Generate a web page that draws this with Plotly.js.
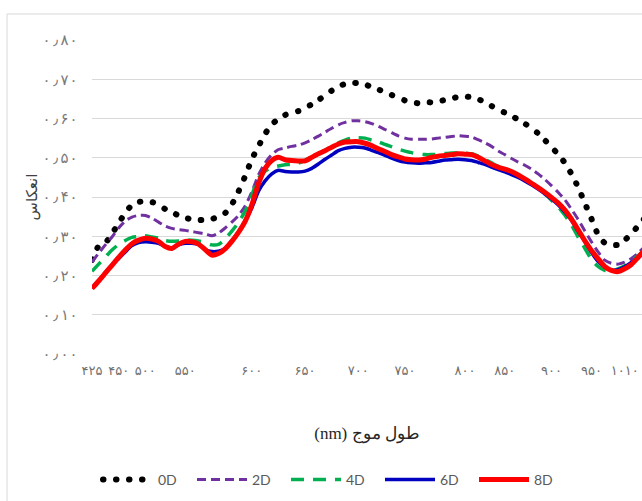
<!DOCTYPE html>
<html>
<head>
<meta charset="utf-8">
<script src="https://cdn.plot.ly/plotly-3.0.1.min.js"></script>
<style>
  html, body { margin: 0; padding: 0; background: #ffffff; }
  #chart { width: 642px; height: 501px; }
</style>
</head>
<body>
<div id="chart"></div>
<script>
// Wavelength categories (nm), in the order of the source table
var wavelengths = [
  425, 431, 438, 444, 450, 463, 475, 488, 500,
  508, 517, 525, 533, 542, 550,
  555, 560, 565, 570, 575, 580, 585, 590, 595, 600,
  606, 613, 619, 625, 631, 638, 644, 650,
  656, 663, 669, 675, 681, 688, 694, 700,
  707, 714, 721, 729, 736, 743, 750,
  756, 761, 767, 772, 778, 783, 789, 794, 800,
  808, 817, 825, 833, 842, 850,
  857, 864, 871, 879, 886, 893, 900,
  908, 917, 925, 933, 942, 950,
  962, 974, 986, 998, 1010,
  1022, 1034, 1046
];

var series0D = [
  0.240, 0.275, 0.283, 0.306, 0.334, 0.359, 0.380, 0.387, 0.390,
  0.387, 0.382, 0.369, 0.361, 0.353, 0.347,
  0.343, 0.341, 0.342, 0.344, 0.350, 0.359, 0.381, 0.414, 0.453, 0.496,
  0.529, 0.561, 0.585, 0.599, 0.609, 0.615, 0.619, 0.627,
  0.636, 0.647, 0.659, 0.671, 0.682, 0.688, 0.691, 0.690,
  0.687, 0.680, 0.674, 0.667, 0.660, 0.652, 0.646,
  0.641, 0.639, 0.642, 0.641, 0.644, 0.647, 0.651, 0.655, 0.656,
  0.654, 0.649, 0.642, 0.632, 0.622, 0.615,
  0.607, 0.597, 0.587, 0.575, 0.562, 0.545, 0.527,
  0.509, 0.487, 0.459, 0.425, 0.385, 0.345,
  0.304, 0.283, 0.278, 0.278, 0.290,
  0.306, 0.326, 0.346
];

var series2D = [
  0.234, 0.257, 0.278, 0.298, 0.321, 0.339, 0.349, 0.353, 0.353,
  0.346, 0.336, 0.326, 0.320, 0.317, 0.315,
  0.312, 0.309, 0.306, 0.301, 0.308, 0.321, 0.336, 0.353, 0.377, 0.413,
  0.456, 0.487, 0.508, 0.521, 0.525, 0.529, 0.532, 0.538,
  0.546, 0.555, 0.565, 0.575, 0.584, 0.590, 0.594, 0.594,
  0.592, 0.587, 0.580, 0.572, 0.564, 0.556, 0.550,
  0.547, 0.547, 0.547, 0.548, 0.550, 0.552, 0.554, 0.556, 0.555,
  0.553, 0.546, 0.538, 0.529, 0.517, 0.508,
  0.498, 0.489, 0.481, 0.471, 0.459, 0.445, 0.429,
  0.412, 0.393, 0.369, 0.343, 0.314, 0.286,
  0.260, 0.239, 0.231, 0.229, 0.234,
  0.243, 0.257, 0.273
];

var series4D = [
  0.211, 0.229, 0.247, 0.265, 0.279, 0.289, 0.297, 0.299, 0.301,
  0.298, 0.295, 0.289, 0.287, 0.288, 0.290,
  0.290, 0.288, 0.284, 0.278, 0.279, 0.293, 0.313, 0.335, 0.364, 0.405,
  0.448, 0.466, 0.475, 0.479, 0.482, 0.483, 0.486, 0.494,
  0.502, 0.510, 0.519, 0.529, 0.538, 0.545, 0.550, 0.551,
  0.550, 0.545, 0.541, 0.534, 0.528, 0.522, 0.517,
  0.513, 0.510, 0.508, 0.508, 0.509, 0.511, 0.512, 0.513, 0.512,
  0.510, 0.504, 0.496, 0.487, 0.478, 0.472,
  0.465, 0.456, 0.446, 0.434, 0.421, 0.408, 0.392,
  0.375, 0.354, 0.329, 0.298, 0.270, 0.241,
  0.223, 0.213, 0.211, 0.217, 0.225,
  0.237, 0.250, 0.265
];

var series6D = [
  0.168, 0.187, 0.208, 0.227, 0.243, 0.260, 0.276, 0.284, 0.286,
  0.285, 0.282, 0.274, 0.270, 0.278, 0.282,
  0.282, 0.279, 0.266, 0.261, 0.262, 0.269, 0.289, 0.311, 0.339, 0.372,
  0.415, 0.441, 0.459, 0.468, 0.465, 0.464, 0.464, 0.466,
  0.473, 0.484, 0.496, 0.507, 0.518, 0.524, 0.527, 0.527,
  0.525, 0.519, 0.513, 0.506, 0.499, 0.493, 0.489,
  0.487, 0.486, 0.487, 0.488, 0.491, 0.494, 0.495, 0.496, 0.495,
  0.493, 0.488, 0.483, 0.476, 0.470, 0.464,
  0.457, 0.450, 0.441, 0.431, 0.420, 0.408, 0.395,
  0.380, 0.362, 0.341, 0.313, 0.287, 0.259,
  0.236, 0.222, 0.214, 0.215, 0.222,
  0.233, 0.246, 0.260
];

var series8D = [
  0.167, 0.186, 0.206, 0.226, 0.246, 0.265, 0.281, 0.290, 0.295,
  0.293, 0.287, 0.274, 0.269, 0.280, 0.287,
  0.286, 0.280, 0.266, 0.252, 0.256, 0.268, 0.287, 0.310, 0.338, 0.380,
  0.434, 0.473, 0.493, 0.501, 0.495, 0.493, 0.492, 0.492,
  0.501, 0.510, 0.518, 0.527, 0.535, 0.540, 0.541, 0.541,
  0.537, 0.531, 0.523, 0.516, 0.508, 0.502, 0.497,
  0.495, 0.494, 0.496, 0.501, 0.504, 0.506, 0.508, 0.510, 0.509,
  0.508, 0.501, 0.492, 0.483, 0.476, 0.471,
  0.465, 0.456, 0.446, 0.435, 0.424, 0.412, 0.399,
  0.385, 0.367, 0.344, 0.317, 0.289, 0.264,
  0.243, 0.223, 0.213, 0.210, 0.217,
  0.228, 0.246, 0.265
];

var seriesNames = ['0D', '2D', '4D', '6D', '8D'];

var xTickWavelengths = [425, 450, 500, 550, 600, 650, 700, 750, 800, 850, 900, 950, 1010];
var xTickLabels = ['۴۲۵', '۴۵۰', '۵۰۰', '۵۵۰', '۶۰۰', '۶۵۰', '۷۰۰', '۷۵۰', '۸۰۰', '۸۵۰', '۹۰۰', '۹۵۰', '۱۰۱۰'];

var yTickValues = [0, 0.1, 0.2, 0.3, 0.4, 0.5, 0.6, 0.7, 0.8];
var yTickLabels = ['۰٫۰۰', '۰٫۱۰', '۰٫۲۰', '۰٫۳۰', '۰٫۴۰', '۰٫۵۰', '۰٫۶۰', '۰٫۷۰', '۰٫۸۰'];

var xTitle = '(nm) طول موج';
var yTitle = 'انعکاس';

// ---- styling ----
var seriesData = [series0D, series2D, series4D, series6D, series8D];
var styles = [
  { color: '#000000', width: 6,   dash: '0.5px,12.5px' },
  { color: '#7030A0', width: 3,   dash: '9px,5px' },
  { color: '#00B050', width: 3.5, dash: '13px,9px' },
  { color: '#0000C0', width: 3.5, dash: 'solid' },
  { color: '#FF0000', width: 5,   dash: 'solid' }
];

var xCats = wavelengths.map(String);
var traces = seriesData.map(function (vals, i) {
  return {
    type: 'scatter',
    mode: 'lines',
    name: seriesNames[i],
    x: xCats,
    y: vals,
    line: { color: styles[i].color, width: styles[i].width, dash: styles[i].dash, shape: 'spline', smoothing: 0.6 },
    hoverinfo: 'x+y+name'
  };
});

var plotLeft = 92, plotRight = 642, plotTop = 40, plotBottom = 354;
var plotH = plotBottom - plotTop, plotW = plotRight - plotLeft;
function px2paperX(px) { return (px - plotLeft) / plotW; }
function px2paperY(py) { return (plotBottom - py) / plotH; }

var layout = {
  width: 642,
  height: 501,
  margin: { l: plotLeft, r: 642 - plotRight, t: plotTop, b: 501 - plotBottom, pad: 0, autoexpand: false },
  paper_bgcolor: '#ffffff',
  plot_bgcolor: '#ffffff',
  font: { family: 'DejaVu Sans, sans-serif', color: '#595959' },
  showlegend: true,
  xaxis: {
    type: 'category',
    range: [0, 82.6],
    tickmode: 'array',
    tickvals: xTickWavelengths.map(String),
    ticktext: xTickLabels,
    showgrid: false,
    zeroline: false,
    showline: false,
    ticks: '',
    ticklabelstandoff: 7,
    tickangle: 0,
    automargin: false,
    tickfont: { family: 'DejaVu Sans, sans-serif', size: 13, color: '#6f6f6f' },
    title: {
      text: xTitle,
      font: { family: 'Liberation Serif, DejaVu Serif, serif', size: 17, color: '#262626' },
      standoff: 50
    },
    fixedrange: true
  },
  yaxis: {
    range: [0, 0.8],
    tickmode: 'array',
    tickvals: yTickValues,
    ticktext: yTickLabels,
    showgrid: true,
    gridcolor: '#D9D9D9',
    gridwidth: 1,
    zeroline: false,
    showline: false,
    ticks: '',
    ticklabelstandoff: 13,
    automargin: false,
    tickfont: { family: 'DejaVu Sans Mono, DejaVu Sans, monospace', size: 15, color: '#7a7a7a' },
    title: {
      text: yTitle,
      font: { family: 'DejaVu Sans, sans-serif', size: 15, color: '#404040' },
      standoff: 0
    },
    fixedrange: true
  },
  legend: {
    orientation: 'h',
    x: px2paperX(98),
    xanchor: 'left',
    y: px2paperY(464),
    yanchor: 'top',
    font: { family: 'Lato, Open Sans, sans-serif', size: 14, color: '#595959' },
    itemwidth: 50,
    entrywidth: 29,
    entrywidthmode: 'pixels',
    tracegroupgap: 0,
    bgcolor: 'rgba(0,0,0,0)'
  },
  shapes: [
    {
      type: 'rect', xref: 'paper', yref: 'paper',
      x0: px2paperX(7), x1: px2paperX(660),
      y0: px2paperY(520), y1: px2paperY(14),
      line: { color: '#D9D9D9', width: 1 },
      fillcolor: 'rgba(0,0,0,0)',
      layer: 'below'
    }
  ]
};

Plotly.newPlot('chart', traces, layout, { displayModeBar: false, staticPlot: true }).then(function (gd) {
  var tr = gd.querySelectorAll('.scatterlayer .trace');
  if (tr.length) {
    tr[0].querySelectorAll('path.js-line').forEach(function (p) { p.style.strokeLinecap = 'round'; });
  }
  var lg = gd.querySelectorAll('.legend .traces');
  if (lg.length) {
    lg[0].querySelectorAll('path.js-line').forEach(function (p) { p.style.strokeLinecap = 'round'; });
  }
});
</script>
</body>
</html>
